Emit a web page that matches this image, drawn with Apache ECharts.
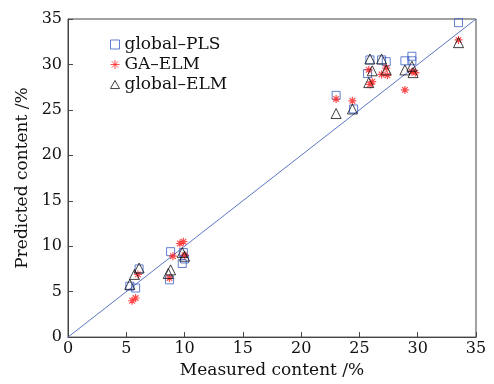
<!DOCTYPE html>
<html><head><meta charset="utf-8">
<script src="https://cdn.jsdelivr.net/npm/echarts@6/dist/echarts.min.js"></script>
<style>html,body{margin:0;padding:0;background:#fff}#c{width:494px;height:384px}</style>
</head><body><div id="c"></div>
<script>
const xTicks = [0, 5, 10, 15, 20, 25, 30, 35];
const yTicks = [0, 5, 10, 15, 20, 25, 30, 35];
const seriesNames = ['global–PLS', 'GA–ELM', 'global–ELM'];
const plsMeasured = [5.3, 5.8, 6.1, 8.8, 8.7, 9.9, 10.0, 9.8, 23.0, 24.5, 25.7, 25.9, 26.9, 27.3, 28.9, 29.5, 29.5, 33.5];
const plsPredicted = [5.6, 5.4, 7.5, 9.4, 6.3, 9.3, 8.6, 8.1, 26.6, 25.1, 29.0, 30.5, 30.5, 30.3, 30.4, 30.9, 30.4, 34.6];
const gaMeasured = [5.5, 5.8, 6.0, 8.7, 9.0, 9.6, 9.9, 10.0, 23.0, 24.4, 25.8, 25.9, 26.1, 26.9, 27.3, 27.4, 28.9, 29.5, 29.8, 33.5];
const gaPredicted = [4.0, 4.3, 6.9, 6.5, 8.9, 10.3, 10.5, 9.0, 26.2, 26.0, 29.4, 27.8, 28.1, 28.9, 29.6, 28.8, 27.2, 29.2, 29.1, 32.7];
const elmMeasured = [5.3, 5.7, 6.1, 8.8, 8.6, 9.8, 10.0, 23.0, 24.4, 25.9, 26.1, 25.8, 26.9, 27.3, 28.9, 29.5, 29.6, 33.5];
const elmPredicted = [5.8, 6.9, 7.6, 7.4, 7.0, 9.3, 8.9, 24.6, 25.1, 30.6, 29.3, 28.0, 30.6, 29.4, 29.4, 29.8, 29.1, 32.4];
const refLine = [[0, 0], [35, 35]];

const zip = (a, b) => a.map((v, i) => [v, b[i]]);
const font = 'DejaVu Serif';
const star = 'path://M5,0L5,10M0,5L10,5M1.5,1.5L8.5,8.5M8.5,1.5L1.5,8.5';
const square = 'path://M0,0L10,0L10,10L0,10Z';
const tri = 'path://M5,0L10,9L0,9Z';

const chart = echarts.init(document.getElementById('c'), null, {renderer: 'canvas'});
chart.setOption({
  animation: false,
  backgroundColor: '#fff',
  grid: {left: 68, right: 18, top: 19, bottom: 44, show: true, borderColor: '#444', borderWidth: 1},
  legend: {
    orient: 'vertical', left: 105, top: 31, itemWidth: 9, itemHeight: 9, itemGap: 3,
    itemStyle: {borderWidth: 1},
    textStyle: {fontFamily: font, fontSize: 17, color: '#111'},
    data: seriesNames
  },
  xAxis: {
    type: 'value', min: 0, max: 35, interval: 5,
    name: 'Measured content /%', nameLocation: 'middle', nameGap: 24,
    nameTextStyle: {fontFamily: font, fontSize: 17, color: '#111'},
    axisLine: {lineStyle: {color: '#444'}},
    axisTick: {inside: true, length: 5, lineStyle: {color: '#444'}},
    axisLabel: {fontFamily: font, fontSize: 16, color: '#111', margin: 4, formatter: v => xTicks.includes(v) ? String(v) : ''},
    splitLine: {show: false}
  },
  yAxis: {
    type: 'value', min: 0, max: 35, interval: 5,
    name: 'Predicted content /%', nameLocation: 'middle', nameGap: 34,
    nameTextStyle: {fontFamily: font, fontSize: 17, color: '#111'},
    axisLine: {lineStyle: {color: '#444'}},
    axisTick: {inside: true, length: 5, lineStyle: {color: '#444'}},
    axisLabel: {fontFamily: font, fontSize: 16, color: '#111', margin: 6, formatter: v => yTicks.includes(v) ? String(v) : ''},
    splitLine: {show: false}
  },
  series: [
    {type: 'line', data: refLine, symbol: 'none', silent: true, lineStyle: {color: '#5b76c6', width: 1}, z: 1},
    {name: seriesNames[0], type: 'scatter', data: zip(plsMeasured, plsPredicted), symbol: square, symbolSize: 8,
     itemStyle: {color: 'rgba(0,0,0,0)', borderColor: '#3b5fc4', borderWidth: 1}, z: 3},
    {name: seriesNames[1], type: 'scatter', data: zip(gaMeasured, gaPredicted), symbol: star, symbolSize: 8,
     itemStyle: {color: 'rgba(0,0,0,0)', borderColor: '#ff2020', borderWidth: 1.2}, z: 4},
    {name: seriesNames[2], type: 'scatter', data: zip(elmMeasured, elmPredicted), symbol: tri, symbolSize: 10,
     itemStyle: {color: 'rgba(0,0,0,0)', borderColor: '#111', borderWidth: 1}, z: 5}
  ]
});
</script></body></html>
